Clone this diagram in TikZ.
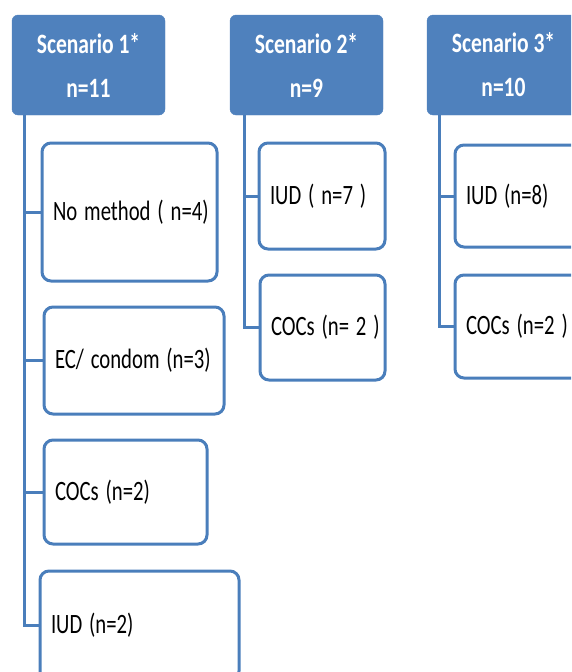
\documentclass[tikz,border=0pt]{standalone}
\usepackage{fontspec}
\usepackage{graphicx}
\setmainfont{Carlito}
\newcommand{\hdrtxt}[1]{\scalebox{0.77}[1]{#1}}
\newcommand{\leaftxt}[1]{\scalebox{0.74}[1]{#1}}
\definecolor{hblue}{HTML}{4F81BD}
\definecolor{lblue}{HTML}{4A7EBB}
\tikzset{
  hdr/.style={fill=hblue, draw=hblue, rounded corners=6pt, minimum width=153pt, minimum height=100pt,
    text=white, font=\fontsize{28}{44}\selectfont\bfseries, align=center, inner sep=0pt},
  leaf/.style={fill=white, draw=lblue, line width=3pt, rounded corners=9pt, inner xsep=11pt, inner ysep=0pt,
    align=left, font=\fontsize{28}{34}\selectfont, text=black},
  conn/.style={draw=lblue, line width=3pt}
}
\begin{document}
\begin{tikzpicture}[x=1pt,y=-1pt]
\useasboundingbox (0,0) rectangle (571,672);
\clip (0,0) rectangle (571,672);
% headers
\node[hdr] (h1) at (88.5,65) {\hdrtxt{Scenario 1*}\\\hdrtxt{n=11}};
\node[hdr] (h2) at (306.5,65) {\hdrtxt{Scenario 2*}\\\hdrtxt{n=9}};
\node[hdr] (h3) at (503.5,65) {\hdrtxt{Scenario 3*}\\\hdrtxt{n=10}};
% scenario 1 leaves
\node[leaf, text width=153pt, minimum height=138pt] (b11) at (129.5,212) {\leaftxt{No method ( n=4)}};
\node[leaf, text width=158pt, minimum height=107pt] (b12) at (134,360.5) {\leaftxt{EC/ condom (n=3)}};
\node[leaf, text width=141pt, minimum height=104pt] (b13) at (125.5,492) {\leaftxt{COCs (n=2)}};
\node[leaf, text width=177pt, minimum height=109pt] (b14) at (139.5,625.5) {\leaftxt{IUD (n=2)}};
% scenario 2 leaves
\node[leaf, text width=104pt, minimum height=106pt] (b21) at (322,196) {\leaftxt{IUD ( n=7 )}};
\node[leaf, text width=103pt, minimum height=105pt] (b22) at (322.5,327.5) {\leaftxt{COCs (n= 2 )}};
% scenario 3 leaves
\node[leaf, text width=123pt, minimum height=102pt] (b31) at (527.5,196) {\leaftxt{IUD (n=8)}};
\node[leaf, text width=123pt, minimum height=103pt] (b32) at (527.5,326.5) {\leaftxt{COCs (n=2 )}};
% trunks
\coordinate (t1) at ([xshift=13pt]h1.south west);
\coordinate (t2) at ([xshift=15pt]h2.south west);
\coordinate (t3) at ([xshift=13pt]h3.south west);
\draw[conn] (t1) |- (b14.west);
\draw[conn] (t1 |- b11.west) -- (b11.west);
\draw[conn] (t1 |- b12.west) -- (b12.west);
\draw[conn] (t1 |- b13.west) -- (b13.west);
\draw[conn] (t2) |- (b22.west);
\draw[conn] (t2 |- b21.west) -- (b21.west);
\draw[conn] (t3) |- (b32.west);
\draw[conn] (t3 |- b31.west) -- (b31.west);
\end{tikzpicture}
\end{document}
